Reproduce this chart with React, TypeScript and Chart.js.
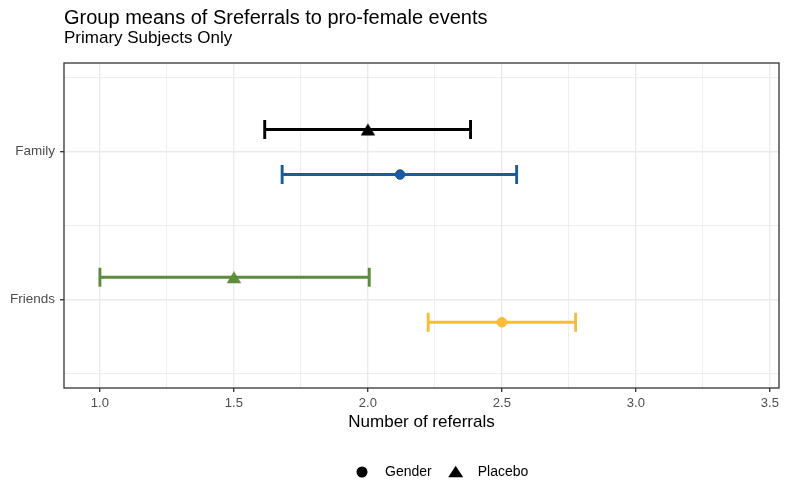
import React, { useEffect, useRef } from 'react';
import { Chart, registerables } from 'chart.js';

Chart.register(...registerables);

// ---- data ----
const categories = ['Family', 'Friends'];
const groups = ['Gender', 'Placebo'];
const genderMean = [2.12, 2.5];
const genderLow = [1.68, 2.225];
const genderHigh = [2.555, 2.775];
const placeboMean = [2.0, 1.5];
const placeboLow = [1.615, 1.0];
const placeboHigh = [2.383, 2.005];
const genderColors = ['#1C5A9B', '#FBBC35'];
const placeboColors = ['#000000', '#5E8B3E'];
const xTickValues = [1, 1.25, 1.5, 1.75, 2, 2.25, 2.5, 2.75, 3, 3.25, 3.5];
const xMajorTicks = [1, 1.5, 2, 2.5, 3, 3.5];
const yTickValues = [-0.5, 0, 0.5, 1, 1.5];

const FONT = '"Liberation Sans", Arial, Helvetica, sans-serif';
const GRID = '#EBEBEB';
const DODGE: Record<string, number> = { Gender: 0.155, Placebo: -0.15 };
const TRI_W = 14.5;
const TRI_H = 12;

function traceTriangle(ctx: CanvasRenderingContext2D, cx: number, cy: number, w: number, h: number) {
  ctx.beginPath();
  ctx.moveTo(cx, cy - h / 2);
  ctx.lineTo(cx + w / 2, cy + h / 2);
  ctx.lineTo(cx - w / 2, cy + h / 2);
  ctx.closePath();
}

function triangleImage(color: string) {
  const c = document.createElement('canvas');
  c.width = 16;
  c.height = 14;
  const ctx = c.getContext('2d')!;
  ctx.fillStyle = color;
  traceTriangle(ctx, 8, 7, TRI_W, TRI_H);
  ctx.fill();
  return c;
}

const errorBarPlugin = {
  id: 'errorBars',
  beforeDatasetsDraw(chart: any) {
    const { ctx } = chart;
    const xs = chart.scales.x;
    const ys = chart.scales.y;
    const cap = 9.5;
    chart.data.datasets.forEach((ds: any) => {
      ds.data.forEach((p: any, i: number) => {
        const py = ys.getPixelForValue(p.y);
        const x0 = xs.getPixelForValue(p.lo);
        const x1 = xs.getPixelForValue(p.hi);
        ctx.save();
        ctx.strokeStyle = ds.backgroundColor[i];
        ctx.lineWidth = 2.9;
        ctx.lineCap = 'butt';
        ctx.beginPath();
        ctx.moveTo(x0, py);
        ctx.lineTo(x1, py);
        ctx.moveTo(x0, py - cap);
        ctx.lineTo(x0, py + cap);
        ctx.moveTo(x1, py - cap);
        ctx.lineTo(x1, py + cap);
        ctx.stroke();
        ctx.restore();
      });
    });
  },
};

const panelBorderPlugin = {
  id: 'panelBorder',
  afterDatasetsDraw(chart: any) {
    const { ctx, chartArea: a } = chart;
    ctx.save();
    ctx.strokeStyle = '#333333';
    ctx.lineWidth = 1.3;
    ctx.strokeRect(a.left, a.top, a.right - a.left, a.bottom - a.top);
    ctx.restore();
  },
};

const legendPlugin = {
  id: 'ggLegend',
  afterDraw(chart: any) {
    const { ctx } = chart;
    const cy = 472;
    let x = 356;
    ctx.save();
    ctx.font = '14px ' + FONT;
    ctx.textBaseline = 'middle';
    ctx.textAlign = 'left';
    ctx.fillStyle = '#000000';
    groups.forEach((g, gi) => {
      const cx = x + 6;
      if (gi === 0) {
        ctx.beginPath();
        ctx.arc(cx, cy, 5.5, 0, Math.PI * 2);
      } else {
        traceTriangle(ctx, cx + 1, cy - 0.5, 15, 11.5);
      }
      ctx.fill();
      const tx = cx + 23;
      ctx.fillText(g, tx, cy + 0.5);
      x = tx + ctx.measureText(g).width + 17;
    });
    ctx.restore();
  },
};

export default function App() {
  const ref = useRef<HTMLCanvasElement | null>(null);
  useEffect(() => {
    document.body.style.margin = '0';
    const canvas = ref.current;
    if (!canvas) return;
    Chart.defaults.font.family = FONT;
    const mk = (name: string, mean: number[], lo: number[], hi: number[], colors: string[], style: any, radius: number) => ({
      label: name,
      data: categories.map((_, i) => ({ x: mean[i], y: i + DODGE[name], lo: lo[i], hi: hi[i] })),
      backgroundColor: colors,
      borderColor: colors,
      pointBackgroundColor: colors,
      pointBorderColor: colors,
      pointStyle: style,
      pointRadius: radius,
      pointBorderWidth: 1,
      showLine: false,
    });
    const chart = new Chart(canvas, {
      type: 'scatter',
      data: {
        datasets: [
          mk('Gender', genderMean, genderLow, genderHigh, genderColors, 'circle', 4.8),
          mk('Placebo', placeboMean, placeboLow, placeboHigh, placeboColors, placeboColors.map(triangleImage), 7),
        ] as any,
      },
      options: {
        animation: false,
        responsive: false,
        devicePixelRatio: 1,
        layout: { padding: { left: 0, right: 14, top: 0, bottom: 48 } },
        plugins: {
          legend: { display: false },
          tooltip: { enabled: false },
          title: {
            display: true,
            text: 'Group means of Sreferrals to pro-female events',
            align: 'start',
            fullSize: false,
            color: '#000000',
            font: { size: 20, weight: 'normal', lineHeight: 1.0 },
            padding: { top: 8.5, bottom: 0 },
          },
          subtitle: {
            display: true,
            text: 'Primary Subjects Only',
            align: 'start',
            fullSize: false,
            color: '#000000',
            font: { size: 17, weight: 'normal', lineHeight: 1.0 },
            padding: { top: 1.5, bottom: 16 },
          },
        },
        scales: {
          x: {
            type: 'linear',
            min: 0.866,
            max: 3.534,
            afterBuildTicks: (s: any) => {
              s.ticks = xTickValues.map((v) => ({ value: v }));
            },
            afterFit: (s: any) => {
              s.height = 45;
            },
            ticks: {
              autoSkip: false,
              maxRotation: 0,
              padding: 3.5,
              color: '#4D4D4D',
              font: { size: 13 },
              callback: (v: any) => (xMajorTicks.includes(Number(v)) ? Number(v).toFixed(1) : ''),
            },
            grid: {
              color: GRID,
              lineWidth: (c: any) => (xMajorTicks.includes(c.tick?.value) ? 1.4 : 0.8),
              tickLength: 4,
              tickColor: (c: any) => (xMajorTicks.includes(c.tick?.value) ? '#333333' : 'rgba(0,0,0,0)'),
              tickWidth: 1.3,
            },
            border: { display: false },
            title: {
              display: true,
              text: 'Number of referrals',
              color: '#000000',
              font: { size: 17, lineHeight: 1.2 },
              padding: { top: 0, bottom: 0 },
            },
          },
          y: {
            type: 'linear',
            reverse: true,
            min: -0.6,
            max: 1.6,
            afterBuildTicks: (s: any) => {
              s.ticks = yTickValues.map((v) => ({ value: v }));
            },
            afterFit: (s: any) => {
              s.width = 64;
            },
            ticks: {
              autoSkip: false,
              padding: 5,
              color: '#4D4D4D',
              font: { size: 13.5 },
              callback: (v: any) => (Number.isInteger(Number(v)) ? categories[Number(v)] ?? '' : ''),
            },
            grid: {
              color: GRID,
              lineWidth: (c: any) => (Number.isInteger(c.tick?.value) ? 1.4 : 0.8),
              tickLength: 4,
              tickColor: (c: any) => (Number.isInteger(c.tick?.value) ? '#333333' : 'rgba(0,0,0,0)'),
              tickWidth: 1.3,
            },
            border: { display: false },
          },
        },
      } as any,
      plugins: [errorBarPlugin, panelBorderPlugin, legendPlugin],
    });
    return () => chart.destroy();
  }, []);
  return (
    <div style={{ width: 793, height: 481, position: 'relative' }}>
      <canvas ref={ref} width={793} height={481} style={{ display: 'block' }} />
    </div>
  );
}
